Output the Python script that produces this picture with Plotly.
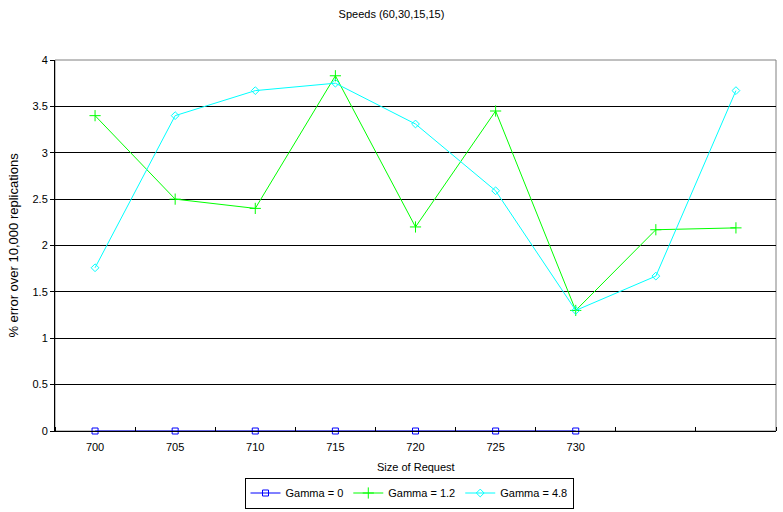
import plotly.graph_objects as go

# Request sizes (last two slots are unlabelled)
categories = ["700", "705", "710", "715", "720", "725", "730", "", ""]
gamma_0 = [0, 0, 0, 0, 0, 0, 0]
gamma_1_2 = [3.40, 2.50, 2.40, 3.83, 2.20, 3.45, 1.30, 2.17, 2.19]
gamma_4_8 = [1.76, 3.40, 3.67, 3.75, 3.31, 2.59, 1.30, 1.67, 3.67]
y_ticks = [0, 0.5, 1, 1.5, 2, 2.5, 3, 3.5, 4]

FONT = "Liberation Sans, Arial, sans-serif"
idx = list(range(len(categories)))

W, H = 783, 512
M_L, M_R, M_T, M_B = 55, 7, 60, 81
PLOT_H = H - M_T - M_B


def paper_y(px):
    """Convert a pixel row of the page to paper y coordinates."""
    return (H - M_B - px) / PLOT_H


fig = go.Figure()
fig.add_trace(go.Scatter(
    x=idx[:len(gamma_0)], y=gamma_0, name="Gamma = 0", mode="lines+markers",
    line=dict(color="#0000ff", width=1),
    marker=dict(symbol="square-open", size=6, color="#0000ff", line=dict(width=1)),
    cliponaxis=False,
))
fig.add_trace(go.Scatter(
    x=idx, y=gamma_1_2, name="Gamma = 1.2", mode="lines+markers",
    line=dict(color="#00ff00", width=1),
    marker=dict(symbol="cross-thin", size=8, color="#00ff00", line=dict(width=1, color="#00ff00")),
    cliponaxis=False,
))
fig.add_trace(go.Scatter(
    x=idx, y=gamma_4_8, name="Gamma = 4.8", mode="lines+markers",
    line=dict(color="#00ffff", width=1),
    marker=dict(symbol="diamond-open", size=6, color="#00ffff", line=dict(width=1)),
    cliponaxis=False,
))

# Plot-area frame (top and right edges)
fig.add_shape(type="rect", xref="paper", yref="paper", x0=0, x1=1, y0=0, y1=1,
              line=dict(color="#808080", width=1), layer="below")

# X-axis title
fig.add_annotation(text="Size of Request", xref="paper", yref="paper",
                   x=0.5, y=paper_y(467), xanchor="center", yanchor="middle",
                   showarrow=False, font=dict(size=11))

fig.update_layout(
    width=W, height=H,
    margin=dict(l=M_L, r=M_R, t=M_T, b=M_B, autoexpand=False),
    paper_bgcolor="white", plot_bgcolor="white",
    font=dict(family=FONT, size=11, color="black"),
    title=dict(text="Speeds (60,30,15,15)", x=0.5, xanchor="center",
               y=1 - 14 / H, yanchor="middle", font=dict(size=11)),
    showlegend=True,
    legend=dict(orientation="h", xref="container", yref="container",
                x=409 / W, xanchor="center", y=1 - 493 / H, yanchor="middle",
                bordercolor="black", borderwidth=1, font=dict(size=11),
                itemwidth=30, tracegroupgap=0),
    xaxis=dict(
        range=[-0.5, len(categories) - 0.5],
        tickmode="array", tickvals=idx, ticktext=categories,
        ticks="", showgrid=False, zeroline=False,
        showline=True, linecolor="black", linewidth=1,
        minor=dict(tick0=-0.5, dtick=1, ticks="inside", ticklen=4,
                   tickcolor="black", showgrid=False),
        ticklabelstandoff=6,
        tickfont=dict(size=11),
    ),
    yaxis=dict(
        range=[0, 4], tickmode="array", tickvals=y_ticks,
        ticktext=[f"{v:g}" for v in y_ticks],
        ticks="outside", ticklen=4, tickcolor="black",
        showgrid=True, gridcolor="black", gridwidth=1,
        zeroline=False, showline=True, linecolor="black", linewidth=1,
        title=dict(text="% error over 10,000 replications", standoff=10),
        tickfont=dict(size=11),
    ),
)

fig.write_html("out.html")
